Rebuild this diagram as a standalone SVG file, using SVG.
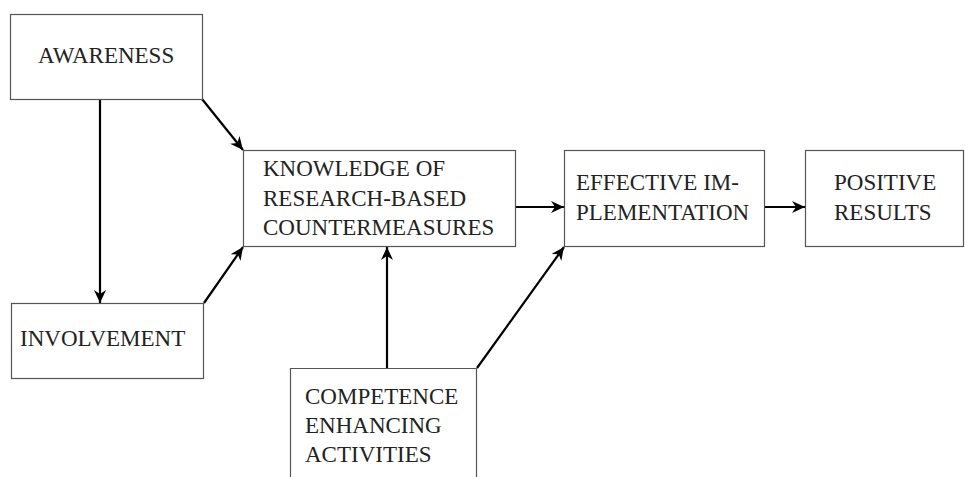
<svg xmlns="http://www.w3.org/2000/svg" width="965" height="477" viewBox="0 0 965 477">
<style>
.box{fill:#fff;stroke:#555;stroke-width:1.2}
.t{font-family:"Liberation Serif","Times New Roman",serif;font-size:23px;fill:#222}
.c{fill:none;stroke:#000;stroke-width:2.2}
</style>
<defs>
<marker id="ah" markerUnits="userSpaceOnUse" markerWidth="16" markerHeight="14" refX="13" refY="6" orient="auto">
<path d="M0,0 L13,6 L0,12 L4,6 Z" fill="#000"/>
</marker>
</defs>
<rect width="965" height="477" fill="#fff"/>
<g id="connectors">
<line class="c" x1="100" y1="99" x2="100" y2="303" marker-end="url(#ah)"/>
<line class="c" x1="202" y1="99" x2="243" y2="150" marker-end="url(#ah)"/>
<line class="c" x1="204" y1="303" x2="243" y2="247" marker-end="url(#ah)"/>
<line class="c" x1="387" y1="368" x2="387" y2="247" marker-end="url(#ah)"/>
<line class="c" x1="477" y1="368" x2="564" y2="247" marker-end="url(#ah)"/>
<line class="c" x1="515" y1="207" x2="564" y2="207" marker-end="url(#ah)"/>
<line class="c" x1="765" y1="207" x2="805" y2="207" marker-end="url(#ah)"/>
</g>
<g id="awareness">
<rect class="box" x="10.5" y="14.5" width="192" height="85"/>
<text class="t" x="38" y="63">AWARENESS</text>
</g>
<g id="knowledge">
<rect class="box" x="243.5" y="150.5" width="272" height="96"/>
<text class="t" x="263" y="176">KNOWLEDGE OF</text>
<text class="t" x="263" y="206">RESEARCH-BASED</text>
<text class="t" x="263" y="235">COUNTERMEASURES</text>
</g>
<g id="effective">
<rect class="box" x="564.5" y="150.5" width="200" height="96"/>
<text class="t" x="576" y="190">EFFECTIVE IM-</text>
<text class="t" x="576" y="220">PLEMENTATION</text>
</g>
<g id="positive">
<rect class="box" x="805.5" y="150.5" width="158" height="96"/>
<text class="t" x="834" y="190">POSITIVE</text>
<text class="t" x="834" y="220">RESULTS</text>
</g>
<g id="involvement">
<rect class="box" x="11.5" y="303.5" width="192" height="75"/>
<text class="t" x="20" y="346">INVOLVEMENT</text>
</g>
<g id="competence">
<path class="box" d="M290.5,480 V368.5 H476.5 V480"/>
<text class="t" x="305" y="404">COMPETENCE</text>
<text class="t" x="305" y="433">ENHANCING</text>
<text class="t" x="305" y="462">ACTIVITIES</text>
</g>
</svg>
